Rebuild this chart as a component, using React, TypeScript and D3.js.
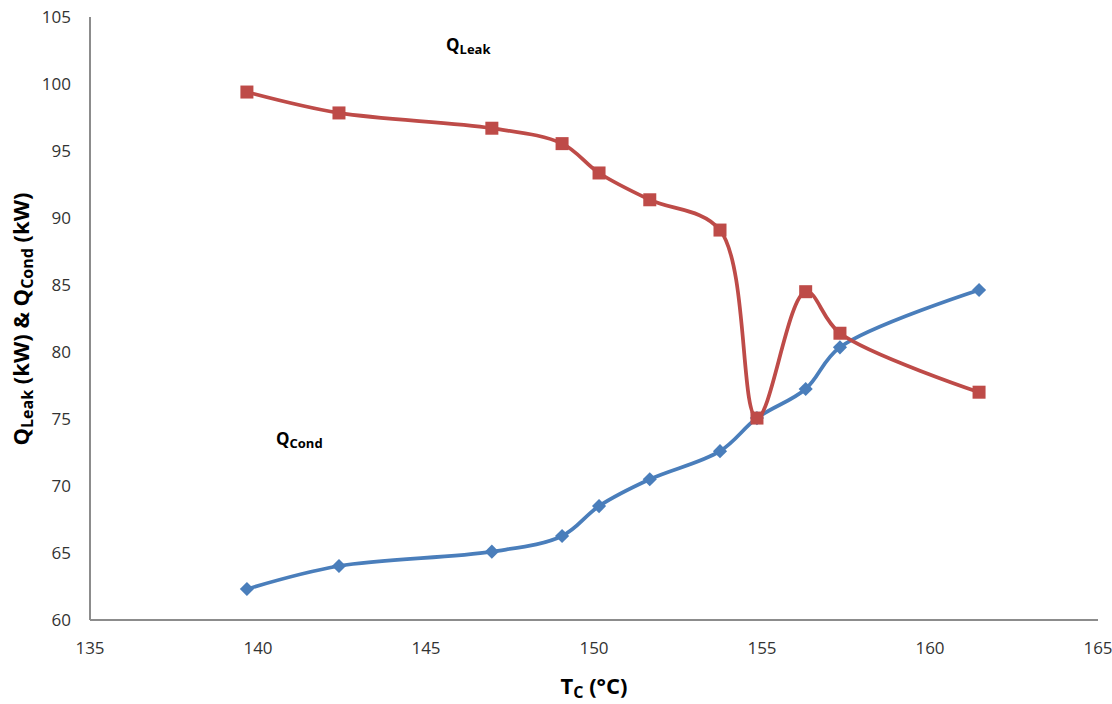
import React from "react";
import * as d3 from "d3";

const temps = [139.67, 142.41, 146.96, 149.05, 150.15, 151.66, 153.75, 154.85, 156.3, 157.32, 161.46];
const qLeak = [99.4, 97.84, 96.7, 95.55, 93.36, 91.36, 89.1, 75.07, 84.5, 81.4, 77.0];
const qCond = [62.31, 64.03, 65.1, 66.27, 68.5, 70.5, 72.6, 75.07, 77.24, 80.35, 84.63];
const xTicks = [135, 140, 145, 150, 155, 160, 165];
const yTicks = [60, 65, 70, 75, 80, 85, 90, 95, 100, 105];

const W = 1112;
const H = 704;
const FONT = "'Open Sans', 'Noto Sans', sans-serif";

export default function App() {
  const x = d3.scaleLinear().domain([135, 165]).range([90, 1098]);
  const y = d3.scaleLinear().domain([60, 105]).range([620, 17]);
  const line = d3
    .line<number>()
    .x((_, i) => x(temps[i]))
    .y((d) => y(d))
    .curve(d3.curveCatmullRom.alpha(0.5));

  const blue = "#4A7EBB";
  const red = "#BE4B48";
  const axisColor = "#8C8C8C";

  return (
    <svg width={W} height={H} style={{ position: "absolute", left: 0, top: 0, background: "#fff" }}>
      <rect width={W} height={H} fill="#fff" />
      {/* axes */}
      <line x1={x(135)} x2={x(165)} y1={y(60)} y2={y(60)} stroke={axisColor} strokeWidth={2} />
      <line x1={x(135)} x2={x(135)} y1={y(60)} y2={y(105)} stroke={axisColor} strokeWidth={2} />
      {yTicks.map((t) => (
        <text key={"y" + t} x={71} y={y(t)} dy="0.35em" textAnchor="end" fontSize={17} fontFamily={FONT} fill="#333">
          {t}
        </text>
      ))}
      {xTicks.map((t) => (
        <text key={"x" + t} x={x(t)} y={654} textAnchor="middle" fontSize={17} fontFamily={FONT} fill="#333">
          {t}
        </text>
      ))}
      {/* axis titles */}
      <text x={594} y={694} textAnchor="middle" fontSize={22} fontWeight="bold" fontFamily={FONT} fill="#000">
        T<tspan fontSize={16} dy={4}>C</tspan>
        <tspan dy={-4}> (°C)</tspan>
      </text>
      <text
        transform={`translate(29, ${319}) rotate(-90)`}
        textAnchor="middle"
        fontSize={22}
        fontWeight="bold"
        fontFamily={FONT}
        fill="#000"
      >
        Q<tspan fontSize={16} dy={4}>Leak</tspan>
        <tspan dy={-4}> (kW) &amp; Q</tspan>
        <tspan fontSize={16} dy={4}>Cond</tspan>
        <tspan dy={-4}> (kW)</tspan>
      </text>
      {/* series */}
      <path d={line(qCond) || ""} fill="none" stroke={blue} strokeWidth={3.75} strokeLinejoin="round" />
      {qCond.map((v, i) => (
        <rect
          key={"b" + i}
          x={-5}
          y={-5}
          width={10}
          height={10}
          fill={blue}
          transform={`translate(${x(temps[i])},${y(v)}) rotate(45)`}
        />
      ))}
      <path d={line(qLeak) || ""} fill="none" stroke={red} strokeWidth={3.75} strokeLinejoin="round" />
      {qLeak.map((v, i) => (
        <rect key={"r" + i} x={x(temps[i]) - 6.5} y={y(v) - 6.5} width={13} height={13} fill={red} />
      ))}
      {/* annotations */}
      <text x={446} y={51} fontSize={17} fontWeight="bold" fontFamily={FONT} fill="#000">
        Q<tspan fontSize={13} dy={3}>Leak</tspan>
      </text>
      <text x={276} y={445} fontSize={17} fontWeight="bold" fontFamily={FONT} fill="#000">
        Q<tspan fontSize={13} dy={3}>Cond</tspan>
      </text>
    </svg>
  );
}
